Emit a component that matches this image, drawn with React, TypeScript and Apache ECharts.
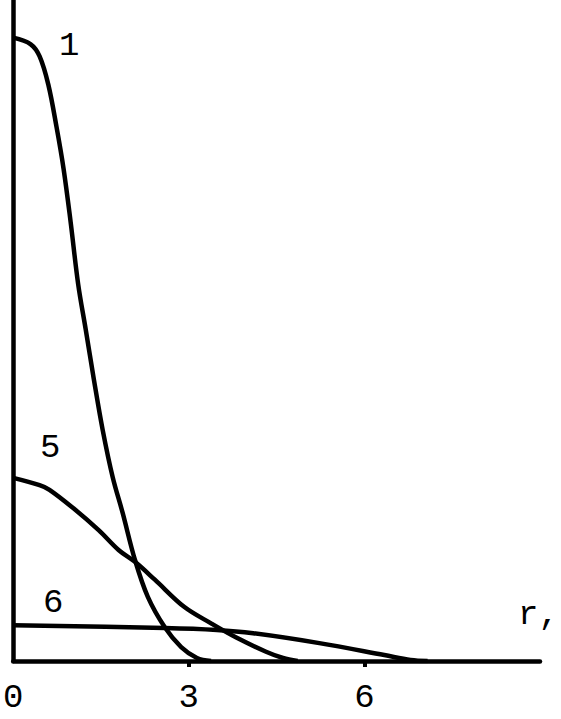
import React, { useEffect, useRef } from "react";
import * as echarts from "echarts";

const rTicks = [0, 3, 6];
const curve1: [number, number][] = [
  [0, 94.3], [0.3, 93.3], [0.45, 91.5], [0.6, 87.2], [0.74, 80.8], [0.86, 74.5],
  [0.98, 66.5], [1.11, 57.0], [1.24, 50.1], [1.38, 42.5], [1.53, 34.9], [1.7, 27.8],
  [1.87, 22.4], [2.08, 15.3], [2.3, 9.7], [2.59, 5.1], [2.87, 2.1], [3.14, 0.45], [3.38, 0],
];
const curve5: [number, number][] = [
  [0, 27.7], [0.45, 26.6], [0.62, 25.9], [1.03, 23.1], [1.46, 19.8], [1.8, 16.8],
  [2.08, 15.0], [2.42, 12.3], [2.92, 8.2], [3.38, 5.7], [3.82, 3.5], [4.32, 1.4],
  [4.61, 0.45], [4.86, 0],
];
const curve6: [number, number][] = [
  [0, 5.4], [2.59, 5.0], [3.48, 4.7], [4.1, 4.2], [5.23, 2.7], [6.34, 0.9], [6.79, 0.15], [7.08, 0],
];
const curveLabels = ["1", "5", "6"];
const axisName = "r,";

const FONT = "'Liberation Mono', 'DejaVu Sans Mono', monospace";
const FS = 34;

export default function App() {
  const ref = useRef<HTMLDivElement>(null);
  useEffect(() => {
    if (!ref.current) return;
    const chart = echarts.init(ref.current, undefined, { renderer: "svg" });
    const lineSeries = (data: [number, number][]) => ({
      type: "line",
      data,
      smooth: 0.35,
      showSymbol: false,
      lineStyle: { color: "#000", width: 4.5 },
      silent: true,
    });
    const txt = (text: string, left: number, top: number) => ({
      type: "text",
      left,
      top,
      style: { text, fontSize: FS, fontFamily: FONT, fill: "#000" },
    });
    chart.setOption({
      animation: false,
      backgroundColor: "#fff",
      grid: { left: 6, right: 21, top: 0, bottom: 58 },
      xAxis: {
        type: "value",
        min: 0,
        max: 9,
        interval: 3,
        axisLine: { lineStyle: { color: "#000", width: 4.5 } },
        axisTick: { show: true, customValues: [3, 6], length: 6, lineStyle: { color: "#000", width: 4 } },
        axisLabel: {
          customValues: rTicks,
          color: "#000",
          fontSize: FS,
          fontFamily: FONT,
          margin: 20,
        },
        splitLine: { show: false },
      },
      yAxis: {
        type: "value",
        min: 0,
        max: 100,
        axisLine: { show: true, lineStyle: { color: "#000", width: 4.5 } },
        axisTick: { show: false },
        axisLabel: { show: false },
        splitLine: { show: false },
      },
      series: [lineSeries(curve1), lineSeries(curve5), lineSeries(curve6)],
      graphic: [
        txt(curveLabels[0], 59, 29),
        txt(curveLabels[1], 40, 431),
        txt(curveLabels[2], 43, 586),
        txt(axisName, 518, 598),
      ],
    });
    return () => chart.dispose();
  }, []);
  return (
    <div
      ref={ref}
      style={{ position: "fixed", left: 0, top: 0, width: 561, height: 719, background: "#fff" }}
    />
  );
}
